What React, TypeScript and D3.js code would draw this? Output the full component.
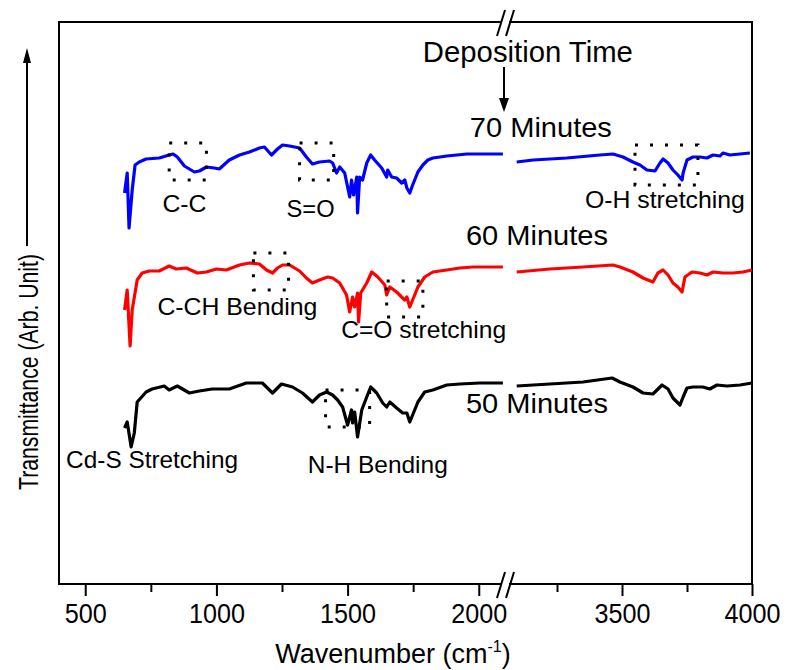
import { useEffect, useRef } from "react";
import * as d3 from "d3";

// FTIR spectra, [wavenumber (cm-1), transmittance (arb. unit, curves offset)]
const min70: [number, number][] = [
  [650, 39.1], [660, 41.1], [667, 35.6], [679, 39.4], [690, 41.9], [706, 42.2], [732, 42.5], [782, 42.6],
  [820, 42.9], [835, 43.0], [851, 42.7], [878, 41.8], [916, 41.2], [935, 41.3], [962, 41.7], [992, 41.6],
  [1011, 41.5], [1049, 42.4], [1088, 42.9], [1126, 43.2], [1164, 43.6], [1183, 43.7], [1210, 42.9], [1233, 43.5],
  [1252, 43.9], [1279, 43.8], [1317, 43.6], [1343, 42.7], [1366, 42.0], [1393, 42.2], [1431, 42.3], [1443, 42.1],
  [1458, 41.1], [1470, 41.7], [1489, 41.1], [1508, 38.7], [1515, 40.4], [1523, 38.9], [1535, 40.7], [1538, 37.1],
  [1546, 40.7], [1557, 40.4], [1573, 42.1], [1588, 42.9], [1603, 42.4], [1630, 41.6], [1649, 40.7], [1653, 41.4],
  [1668, 40.7], [1687, 40.6], [1706, 40.1], [1718, 40.4], [1726, 39.6], [1737, 39.1], [1748, 39.9], [1768, 41.2],
  [1787, 41.9], [1806, 42.4], [1825, 42.6], [1852, 42.7], [1878, 42.8], [1917, 42.9], [1955, 43.0], [2004, 43.0],
  [2054, 43.0], [2092, 43.0],
  [3095, 42.2], [3158, 42.4], [3288, 42.6], [3415, 42.9], [3465, 43.0], [3504, 42.7], [3542, 42.2], [3569, 41.9],
  [3596, 41.4], [3627, 41.3], [3646, 42.1], [3658, 42.5], [3677, 42.1], [3696, 41.4], [3715, 40.9], [3731, 40.4],
  [3735, 41.1], [3750, 42.4], [3773, 42.7], [3800, 42.7], [3827, 42.6], [3850, 42.9], [3877, 42.8], [3888, 43.1],
  [3915, 42.9], [3954, 43.0], [3992, 43.1],
];

const min60: [number, number][] = [
  [650, 27.4], [660, 29.4], [671, 23.8], [679, 27.4], [698, 30.4], [717, 31.1], [744, 31.3], [782, 31.3],
  [820, 31.8], [847, 31.5], [885, 31.6], [927, 31.1], [962, 31.2], [1000, 31.5], [1038, 31.4], [1088, 31.9],
  [1126, 32.1], [1164, 32.0], [1191, 31.4], [1214, 31.1], [1233, 31.6], [1252, 31.9], [1279, 31.9], [1317, 31.3],
  [1343, 30.6], [1366, 30.1], [1393, 30.4], [1424, 30.7], [1443, 30.6], [1470, 30.1], [1496, 28.9], [1508, 27.2],
  [1519, 28.7], [1527, 27.7], [1538, 29.1], [1542, 26.2], [1550, 29.1], [1573, 30.1], [1592, 31.2], [1615, 30.7],
  [1642, 29.9], [1649, 28.9], [1661, 29.7], [1687, 29.2], [1706, 28.7], [1718, 28.4], [1726, 28.7], [1737, 27.7],
  [1748, 28.4], [1768, 29.7], [1794, 30.7], [1825, 31.2], [1878, 31.4], [1928, 31.6], [1978, 31.7], [2031, 31.7],
  [2092, 31.7],
  [3095, 31.2], [3223, 31.5], [3350, 31.7], [3465, 31.9], [3492, 31.7], [3542, 31.2], [3581, 30.6], [3619, 30.2],
  [3638, 31.1], [3658, 31.4], [3677, 30.9], [3696, 30.1], [3715, 29.7], [3731, 29.2], [3742, 30.7], [3769, 31.2],
  [3800, 31.1], [3827, 30.9], [3850, 31.2], [3888, 31.1], [3927, 31.1], [3965, 31.2], [4000, 31.4],
];

const min50: [number, number][] = [
  [650, 15.6], [660, 16.2], [675, 13.7], [687, 15.1], [698, 18.2], [732, 19.2], [755, 19.5], [801, 19.8],
  [820, 19.4], [851, 19.8], [897, 19.1], [935, 19.3], [984, 19.5], [1049, 19.5], [1114, 20.1], [1175, 20.1],
  [1214, 19.1], [1248, 20.0], [1290, 19.7], [1328, 19.1], [1366, 18.2], [1393, 18.9], [1420, 19.2], [1443, 18.9],
  [1462, 18.4], [1481, 17.7], [1500, 15.9], [1515, 17.4], [1519, 16.1], [1527, 17.2], [1538, 14.7], [1554, 17.4],
  [1573, 18.7], [1588, 19.7], [1611, 19.1], [1634, 18.1], [1649, 17.7], [1661, 18.2], [1687, 17.6], [1710, 17.1],
  [1726, 17.1], [1737, 16.2], [1748, 16.9], [1768, 18.2], [1794, 19.2], [1825, 19.4], [1878, 19.9], [1928, 20.0],
  [2004, 20.1], [2092, 20.1],
  [3095, 19.8], [3223, 20.0], [3350, 20.2], [3462, 20.6], [3492, 20.2], [3542, 19.7], [3581, 19.1], [3619, 19.0],
  [3654, 19.9], [3677, 19.5], [3696, 18.6], [3723, 17.9], [3735, 18.7], [3750, 19.6], [3773, 19.7], [3811, 19.7],
  [3838, 19.5], [3865, 19.9], [3904, 19.8], [3954, 19.9], [4000, 20.1],
];

const seriesData = [min70, min60, min50];
const seriesColors = ["#0000ff", "#ff0000", "#000000"];
// label, wavenumber, transmittance (baseline)
const seriesLabels: [string, number, number][] = [
  ["70 Minutes", 3188, 44.7],
  ["60 Minutes", 3173, 33.9],
  ["50 Minutes", 3173, 17.1],
];

const majorLeft = [500, 1000, 1500, 2000];
const majorRight = [3500, 4000];
const minorLeft = [750, 1250, 1750];
const minorRight = [3250, 3750];

// band label, wavenumber, transmittance (baseline), width in px
const bandLabels: [string, number, number, number][] = [
  ["C-C", 878, 37.2, 44],
  ["S=O", 1359, 36.7, 48],
  ["O-H stretching", 3665, 37.6, 160],
  ["C-CH Bending", 1080, 26.9, 160],
  ["C=O stretching", 1790, 24.6, 165],
  ["Cd-S Stretching", 755, 11.6, 172],
  ["N-H Bending", 1615, 11.1, 140],
];

// dotted boxes: [w0, w1, tTop, tBottom]
const bandBoxes: [number, number, number, number][] = [
  [820, 962, 44.1, 40.4],
  [1317, 1447, 44.1, 40.4],
  [3550, 3792, 43.9, 39.9],
  [1141, 1275, 33.1, 29.4],
  [1649, 1787, 30.3, 26.7],
  [1416, 1584, 19.4, 15.7],
];

const FONT = "'Liberation Sans', Arial, Helvetica, sans-serif";

const App = () => {
  const container = useRef<SVGSVGElement>(null);

  useEffect(() => {
    const svg = d3.select(container.current);
    svg.selectAll("*").remove();

    const left = 59, right = 752, top = 22, bottom = 584;
    const breakX = 505;

    const xL = d3.scaleLinear().domain([400, 2100]).range([left, breakX]);
    const xR = d3.scaleLinear().domain([3050, 4000]).range([breakX, right]);
    const xPos = (w: number) => (w <= 2100 ? xL(w) : xR(w));
    const y = d3.scaleLinear().domain([0, 56.2]).range([bottom, top]);

    // frame
    svg.append("rect")
      .attr("x", left).attr("y", top)
      .attr("width", right - left).attr("height", bottom - top)
      .attr("fill", "none").attr("stroke", "#000").attr("stroke-width", 2);

    // bottom axis ticks
    const addAxis = (scale: any, values: number[], size: number, labels: boolean) => {
      const ax = d3.axisBottom(scale)
        .tickValues(values)
        .tickSize(size)
        .tickSizeOuter(0)
        .tickPadding(7)
        .tickFormat(labels ? (d3.format("d") as any) : () => "");
      const g = svg.append("g")
        .attr("transform", `translate(0,${bottom})`)
        .call(ax);
      g.select(".domain").remove();
      g.selectAll(".tick line").attr("stroke", "#000").attr("stroke-width", 2);
      g.selectAll(".tick text")
        .attr("fill", "#000")
        .attr("textLength", (d: any) => String(d).length * 14)
        .attr("lengthAdjust", "spacingAndGlyphs")
        .style("font-family", FONT)
        .style("font-size", "28px");
    };
    addAxis(xL, majorLeft, 12, true);
    addAxis(xR, majorRight, 12, true);
    addAxis(xL, minorLeft, 8, false);
    addAxis(xR, minorRight, 8, false);

    // axis break marks
    const b1 = breakX - 4, b2 = breakX + 5;
    [top, bottom].forEach((ay) => {
      svg.append("line")
        .attr("x1", b1 + 1).attr("x2", b2 - 1).attr("y1", ay).attr("y2", ay)
        .attr("stroke", "#fff").attr("stroke-width", 5);
      [b1, b2].forEach((bx) => {
        svg.append("line")
          .attr("x1", bx - 4).attr("y1", ay + 14)
          .attr("x2", bx + 4).attr("y2", ay - 12)
          .attr("stroke", "#000").attr("stroke-width", 2);
      });
    });

    // spectra
    const line = d3.line<[number, number]>()
      .x((d) => xPos(d[0]))
      .y((d) => y(d[1]));

    seriesData.forEach((data, i) => {
      const parts = [data.filter((d) => d[0] <= 2100), data.filter((d) => d[0] >= 3050)];
      parts.forEach((part) => {
        svg.append("path")
          .datum(part)
          .attr("d", line)
          .attr("fill", "none")
          .attr("stroke", seriesColors[i])
          .attr("stroke-width", 3.2)
          .attr("stroke-linejoin", "round");
      });
    });

    // series labels
    seriesLabels.forEach(([label, w, t]) => {
      svg.append("text")
        .attr("x", xPos(w)).attr("y", y(t))
        .attr("text-anchor", "middle")
        .attr("textLength", 142).attr("lengthAdjust", "spacingAndGlyphs")
        .style("font-family", FONT).style("font-size", "28px")
        .text(label);
    });

    // deposition time + arrow
    svg.append("text")
      .attr("x", xR(3138)).attr("y", y(52.2))
      .attr("text-anchor", "middle")
      .attr("textLength", 210).attr("lengthAdjust", "spacingAndGlyphs")
      .style("font-family", FONT).style("font-size", "29px")
      .text("Deposition Time");
    svg.append("line")
      .attr("x1", breakX - 1).attr("x2", breakX - 1)
      .attr("y1", 67).attr("y2", 100)
      .attr("stroke", "#000").attr("stroke-width", 2);
    svg.append("path")
      .attr("d", `M${breakX - 6},98 L${breakX + 4},98 L${breakX - 1},112 Z`)
      .attr("fill", "#000");

    // dotted boxes
    bandBoxes.forEach(([w0, w1, t0, t1]) => {
      svg.append("rect")
        .attr("x", xPos(w0)).attr("y", y(t0))
        .attr("width", xPos(w1) - xPos(w0)).attr("height", y(t1) - y(t0))
        .attr("fill", "none").attr("stroke", "#000")
        .attr("stroke-width", 3).attr("stroke-dasharray", "3 12");
    });

    // band labels
    bandLabels.forEach(([label, w, t, len]) => {
      svg.append("text")
        .attr("x", xPos(w)).attr("y", y(t))
        .attr("text-anchor", "middle")
        .attr("textLength", len).attr("lengthAdjust", "spacingAndGlyphs")
        .style("font-family", FONT).style("font-size", "24px")
        .text(label);
    });

    // x axis title
    const xt = svg.append("text")
      .attr("x", 393).attr("y", 663)
      .attr("text-anchor", "middle")
      .style("font-family", FONT).style("font-size", "27px");
    xt.append("tspan").text("Wavenumber (cm");
    xt.append("tspan").attr("dy", -11).style("font-size", "16px").text("-1");
    xt.append("tspan").attr("dy", 11).text(")");

    // y axis title with arrow
    svg.append("text")
      .attr("transform", `translate(38,372) rotate(-90)`)
      .attr("text-anchor", "middle")
      .attr("textLength", 236).attr("lengthAdjust", "spacingAndGlyphs")
      .style("font-family", FONT).style("font-size", "28px")
      .text("Transmittance (Arb. Unit)");
    svg.append("line")
      .attr("x1", 27).attr("x2", 27).attr("y1", 246).attr("y2", 60)
      .attr("stroke", "#000").attr("stroke-width", 2);
    svg.append("path")
      .attr("d", "M23,63 L31,63 L27,48 Z")
      .attr("fill", "#000");
  }, []);

  return (
    <div style={{ position: "absolute", left: 0, top: 0 }}>
      <svg ref={container} width={788} height={670} style={{ display: "block", background: "#fff" }} />
    </div>
  );
};

export default App;
